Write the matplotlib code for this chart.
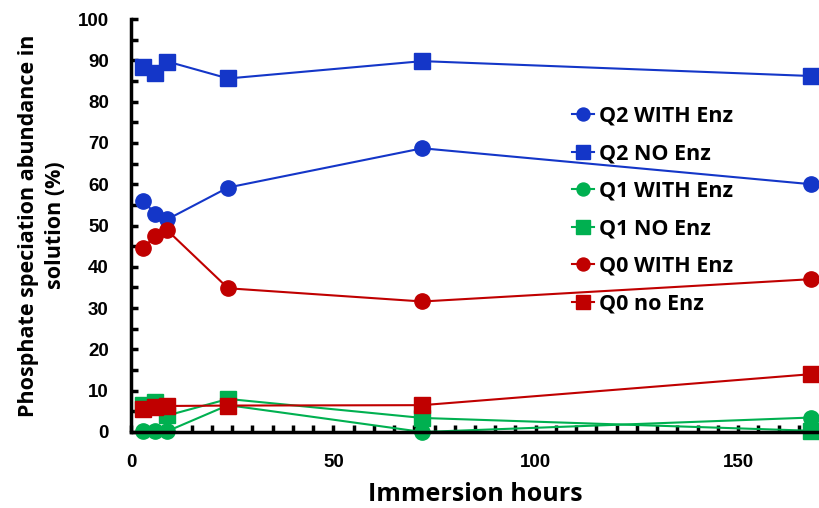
import matplotlib.pyplot as plt
from matplotlib.ticker import MultipleLocator

plt.rcParams['font.family'] = ['Open Sans', 'DejaVu Sans']

hours = [3, 6, 9, 24, 72, 168]
q2_with = [56.0, 52.8, 51.5, 59.2, 68.7, 60.0]
q2_no = [88.3, 87.0, 89.7, 85.6, 89.8, 86.2]
q1_with = [0.2, 0.2, 0.2, 6.5, 0.0, 3.5]
q1_no = [6.5, 7.3, 4.0, 8.0, 3.4, 0.3]
q0_with = [44.5, 47.5, 48.8, 34.8, 31.6, 37.0]
q0_no = [5.6, 6.0, 6.3, 6.4, 6.5, 14.0]

blue = '#1436C8'
green = '#00B050'
red = '#C00000'

fig = plt.figure(figsize=(8.2, 5.08), dpi=100)
ax = fig.add_axes([131 / 820, 1 - 432 / 508, 688 / 820, 413 / 508])

series = [
    (q2_with, blue, 'o', 'Q2 WITH Enz'),
    (q2_no, blue, 's', 'Q2 NO Enz'),
    (q1_with, green, 'o', 'Q1 WITH Enz'),
    (q1_no, green, 's', 'Q1 NO Enz'),
    (q0_with, red, 'o', 'Q0 WITH Enz'),
    (q0_no, red, 's', 'Q0 no Enz'),
]
for vals, col, mk, lab in series:
    ax.plot(hours, vals, color=col, marker=mk, markersize=11 if mk == 'o' else 12,
            linewidth=1.5, label=lab, clip_on=False)

ax.set_xlim(0, 170)
ax.set_ylim(0, 100)
ax.xaxis.set_major_locator(MultipleLocator(50))
ax.xaxis.set_minor_locator(MultipleLocator(5))
ax.yaxis.set_major_locator(MultipleLocator(10))
ax.yaxis.set_minor_locator(MultipleLocator(5))
ax.tick_params(which='both', direction='in', length=5, width=2.5)
ax.tick_params(axis='x', pad=16)
ax.tick_params(axis='y', pad=16)
ax.tick_params(labelsize=13.5)
for lbl in ax.get_xticklabels() + ax.get_yticklabels():
    lbl.set_fontweight('bold')
    lbl.set_family(['Liberation Sans', 'DejaVu Sans'])

for side in ['top', 'right']:
    ax.spines[side].set_visible(False)
for side in ['left', 'bottom']:
    ax.spines[side].set_linewidth(2.5)

ax.set_xlabel('Immersion hours', fontsize=18, fontweight='bold')
ax.xaxis.set_label_coords((475 - 131) / 688, -50 / 413)
ax.set_ylabel('Phosphate speciation abundance in\nsolution (%)', fontsize=15.5,
              fontweight='bold', linespacing=1.35)
ax.yaxis.set_label_coords(-65 / 688, 0.5)

leg = ax.legend(loc='upper left', bbox_to_anchor=(0.6286, 0.811), frameon=False,
                fontsize=15.5, handlelength=1.0, handletextpad=0.25,
                labelspacing=0.77, markerscale=0.85, borderaxespad=0)
for t in leg.get_texts():
    t.set_fontweight('bold')

fig.savefig('out.png', dpi=100)
